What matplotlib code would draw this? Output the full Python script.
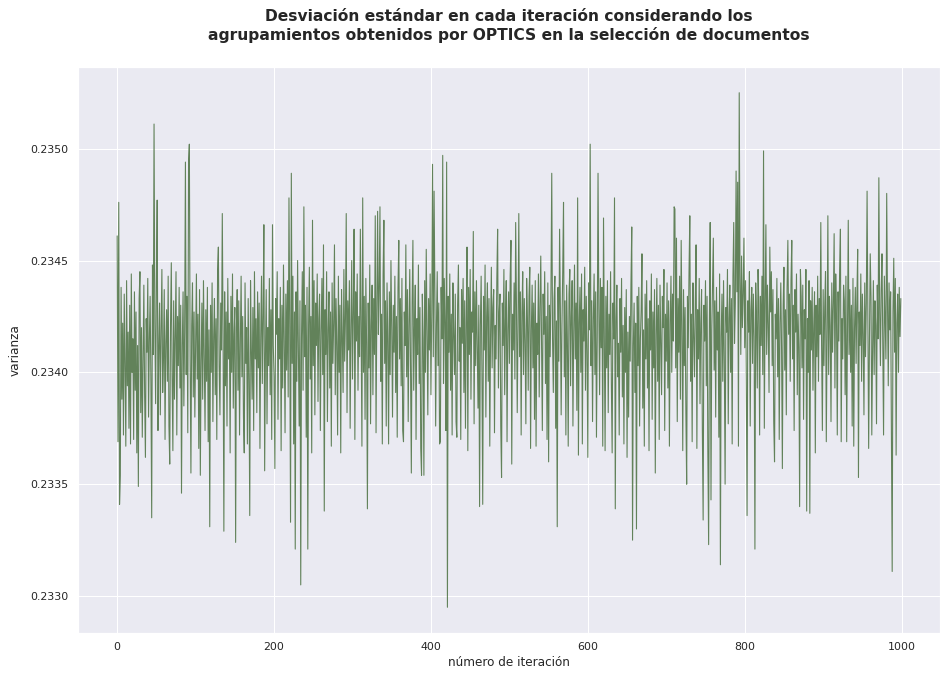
import numpy as np
import matplotlib
matplotlib.use('Agg')
import matplotlib.pyplot as plt
import seaborn as sns

# desviación por iteración, en unidades de 1e-5 sobre 0.2340
BASE = 0.2340
OFFSETS = [
    61, -31, 76, -59, -46, 38, -12, 22, -28, 35, 4, -33, 41, -6, 18, -25, 30, -32, 44, 0,
    15, -30, 36, -8, 27, -36, 12, -51, 33, 45, -18, 20, -29, 5, 39, -10, -38, 24, 9, 42,
    -20, 14, 34, -5, -65, 48, 8, 111, 22, -14, 40, 77, -26, 11, 31, -19, 19, 46, -9, 6,
    37, -30, 13, 28, -4, 43, -24, -41, 21, 49, -2, -35, 32, -12, 16, 45, -28, 25, 3, 38,
    -7, 30, -54, 12, 36, -15, 18, 94, -1, 34, -27, 94, 102, 7, -45, 21, 40, -11, 27, -20,
    14, 44, -3, 26, -34, 37, -46, 5, 31, -12, 41, 9, -26, 28, -4, 38, -31, 19, -69, 30,
    0, 40, -22, 16, 33, -10, 24, -30, 46, 56, 3, -19, 31, 10, 71, 17, -71, 36, -6, 27,
    -24, 42, 6, 22, -36, 34, 0, 44, -16, 17, 29, -76, 20, 37, -8, 32, -28, 13, 43, -2,
    25, -20, -36, 40, 4, 20, -32, 33, -3, -64, 41, 11, -12, 29, -26, 45, 6, 24, -18, 36,
    2, 31, -34, 16, 43, -5, 26, 66, -44, 8, 37, -23, 20, 3, 42, -10, 28, -30, 66, 12,
    -2, -43, 33, 17, 45, -21, 24, 6, 38, -35, 30, -7, 48, 14, -27, 35, 1, 41, -11, 78,
    20, -67, 89, 4, 43, -32, 27, -79, 36, -4, 50, 10, -24, 32, -95, 16, 45, -8, 74, 7,
    30, -29, 38, -79, 21, 47, -3, 25, -36, 68, 3, 41, -19, 31, 12, 44, -13, 24, 35, -26,
    18, 42, -1, 57, -62, 28, 8, 45, -22, 19, 36, -7, 27, -33, 40, 4, 22, 57, -10, 33,
    12, -28, 43, 0, 30, -36, 37, 16, -9, 46, 5, 24, 71, -18, 32, 10, 41, -25, 20, 50,
    -3, 27, 64, -30, 36, 14, 44, -8, 25, 7, 64, 19, -33, 78, 0, 34, -21, 42, 12, -61,
    31, 2, 48, -23, 21, 39, -10, 33, 8, 70, -27, 28, 72, 17, 37, 74, -4, 26, -32, 44,
    68, 4, 32, -24, 40, 14, -32, 36, -1, 50, 20, -20, 30, 9, 43, -9, 25, -29, 38, 59,
    6, 33, -6, 42, -26, -31, 27, 12, 57, -2, 37, -22, 21, 46, 3, -45, 31, 59, -8, 19,
    39, -30, 24, 8, 48, -5, 29, -34, -46, 35, 15, -46, 41, 0, 55, 20, -19, 33, 10, 44,
    -10, 27, 93, 7, 81, 36, -24, 21, 45, 3, 31, -32, -31, 38, 15, 97, -5, 42, 22, -26,
    94, -105, 34, 9, 44, -8, 26, -28, 40, 17, -1, 35, -22, -29, 30, 48, 5, 20, -30, 37,
    13, 42, -9, 32, -25, 23, 56, -35, 38, 8, 46, -12, 27, 18, 63, -23, 36, 3, 41, 12,
    -16, 30, -60, 21, 43, 0, -59, 34, 10, 48, -20, 25, 40, -4, 33, -33, 17, 47, 2, 29,
    37, -27, 21, 6, 42, 64, -7, 27, 35, -24, -47, 31, 12, 46, -10, 23, 41, -31, 19, 36,
    4, 43, 59, -41, 26, 10, 40, -3, 67, 30, -18, 21, 71, 7, 36, -28, 27, 45, -1, 33,
    14, -23, 42, 24, -8, 34, 47, -34, 19, 39, 2, 31, -21, 41, -33, 22, 8, 44, -11, 29,
    52, 11, -26, 35, 17, 45, -5, 25, -30, 40, -40, 30, 7, 37, 89, 15, -9, 33, 43, -25,
    23, -69, 38, 5, 64, 28, -19, 21, 45, 76, -2, 32, -28, 39, 12, -33, 35, 46, -6, 25,
    41, -24, 18, 48, 6, 31, -17, 78, -37, 22, 38, 0, 44, -32, 28, 14, 47, -8, 34, 9,
    -38, 40, 19, 102, 3, 32, -22, 24, 44, -1, 36, -29, 16, 89, 29, -10, 42, 11, 38, -33,
    69, 20, -35, 34, 2, 41, -18, 26, 8, 45, -5, -36, 31, 15, 78, -61, 23, 39, -2, 13,
    -28, 33, 9, 42, -11, 21, -32, 29, 0, 37, -38, 18, -20, 25, 5, 40, 65, -75, 12, 31,
    -9, 22, -70, 34, 3, 38, -24, 15, 28, 53, -16, 19, -33, 35, 6, 41, -7, 24, -35, 32,
    10, 44, -21, 27, 2, 37, -45, 17, 42, -4, 30, -30, 39, 13, -10, 34, 20, 46, -26, 26,
    5, 40, -7, 32, -33, 22, 43, 0, 35, 14, 74, 73, 2, 60, -22, 33, 9, 43, -12, 59,
    20, -35, 37, 3, 29, -18, -50, 34, 11, 45, 70, -4, 26, -31, 40, 17, -2, 32, 57, -34,
    28, 6, 42, -14, 22, 37, -26, -66, 30, 14, 41, -6, 34, -36, -77, 24, 67, -57, 19, 39,
    60, 1, 32, -20, 38, 10, 27, -29, 44, -86, 16, 35, -4, 41, 5, -50, 29, 18, 46, -23,
    24, 39, 0, 33, -32, 43, 67, 13, 31, 90, 36, 85, -33, 125, 44, 8, 52, 20, 35, 60,
    11, 41, -3, -64, 32, 18, 45, -24, 28, 38, 4, 35, 16, -79, 40, 23, -7, 46, 30, -28,
    34, 12, 43, -1, 99, -25, 31, 66, 8, 39, 21, -9, 56, 27, 45, 3, 37, -22, -40, 26,
    15, 42, -2, 33, -30, 22, 40, 10, -43, 30, 47, 1, 28, -19, 38, 59, 17, 35, -4, 41,
    59, 6, 30, -26, 37, 18, 44, -10, 26, 11, -60, 46, 34, 2, 39, -21, 28, 15, 46, -62,
    24, 0, 41, -63, 32, 10, 38, -8, 21, 36, -36, 30, 7, 43, -4, 33, 17, 67, 12, -26,
    37, 3, 29, 45, -31, 16, 70, -1, 34, 21, -22, 40, 9, 31, 62, -7, 44, 25, -28, 36,
    14, 46, 64, -31, 24, 6, 39, 32, -10, 43, -31, 19, 68, 8, 37, 0, 30, -24, 42, -33,
    20, 38, 4, 33, 55, -47, 27, 12, 44, -4, 35, 17, -19, 40, 7, 31, 81, 23, -34, 14,
    53, 34, -28, 10, 41, -1, 32, 21, -23, 39, 15, 87, 29, 3, 37, 53, 12, -28, 43, 24,
    6, 80, 32, -6, 40, 19, 36, -28, -89, 27, 51, 9, 42, -37, 22, 35, 0, 38, 16, 33,
]

varianza = BASE + np.array(OFFSETS) * 1e-5
iteraciones = np.arange(len(varianza))

sns.set_theme()

fig = plt.figure(figsize=(942 / 72, 675 / 72), dpi=72)
ax = fig.add_axes([78 / 942, 1 - 633 / 675, 862 / 942, 566 / 675])
ax.plot(iteraciones, varianza, color='#28561a', alpha=0.7, lw=1.1)
ax.set_title('Desviación estándar en cada iteración considerando los\n'
             'agrupamientos obtenidos por OPTICS en la selección de documentos',
             fontsize=15.5, fontweight='bold', pad=27)
ax.set_xlabel('número de iteración')
ax.set_ylabel('varianza', labelpad=9)
ax.yaxis.set_major_formatter(matplotlib.ticker.FormatStrFormatter('%.4f'))

fig.savefig('out.png', dpi=72)
